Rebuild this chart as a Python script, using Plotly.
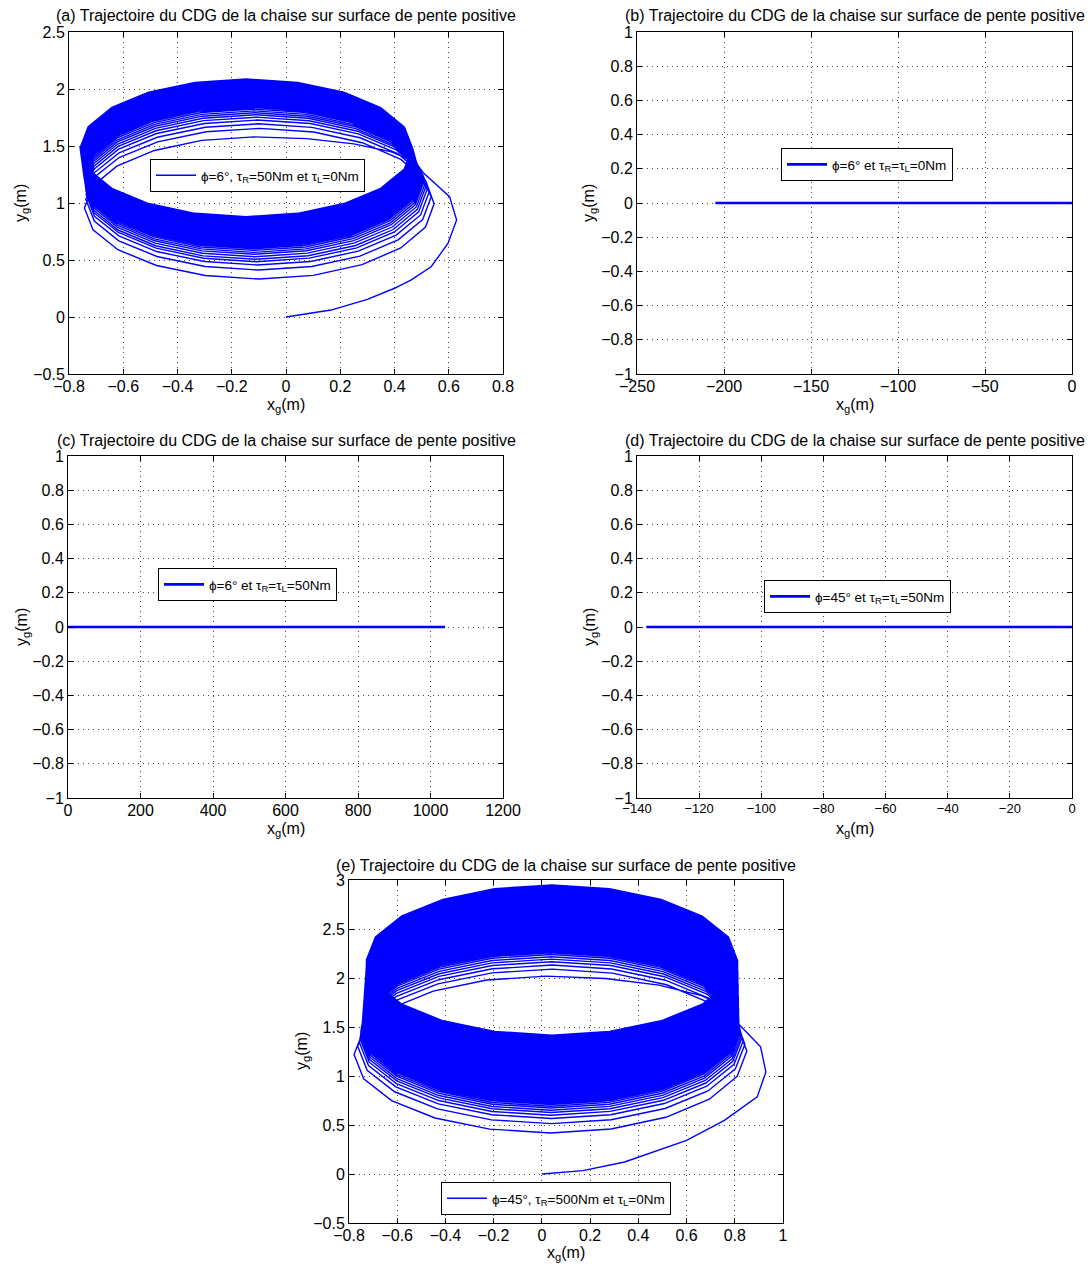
import numpy as np
import plotly.graph_objects as go

FONT = "Liberation Sans, Arial, Helvetica, sans-serif"
BLUE = "#0000ff"
W, H = 1089, 1264
TITLE = "Trajectoire du CDG de la chaise sur surface de pente positive"

# ---------------- (a) phi = 6 deg, tau_R = 50 Nm, tau_L = 0 Nm ----------------
# run-up from the origin to the first turn
a_start_x = [0.0, 0.166, 0.300, 0.400, 0.462, 0.535, 0.597, 0.629, 0.603, 0.508]
a_start_y = [0.0, 0.061, 0.155, 0.252, 0.325, 0.441, 0.645, 0.850, 1.056, 1.260]
# per-turn peak of the upper arc
a_top = [1.580, 1.655, 1.695, 1.728, 1.753, 1.774, 1.792, 1.808, 1.824, 1.838,
         1.848, 1.856, 1.865, 1.873, 1.881, 1.889, 1.898, 1.906, 1.914, 1.923,
         1.931, 1.939, 1.947, 1.956, 1.964, 1.972, 1.981, 1.989, 1.997, 2.005,
         2.014, 2.022, 2.030, 2.039, 2.047, 2.055, 2.063, 2.072, 2.080, 2.088]
# per-turn trough of the lower arc
a_bottom = [0.333, 0.412, 0.456, 0.485, 0.506, 0.529, 0.550, 0.567, 0.584, 0.598,
            0.610, 0.619, 0.629, 0.638, 0.647, 0.657, 0.666, 0.675, 0.684, 0.694,
            0.703, 0.712, 0.722, 0.731, 0.740, 0.750, 0.759, 0.768, 0.778, 0.787,
            0.796, 0.806, 0.815, 0.824, 0.833, 0.843, 0.852, 0.861, 0.871, 0.880]
# per-turn leftmost x
a_left = [-0.743, -0.738, -0.737, -0.738, -0.739, -0.740, -0.741, -0.742, -0.743, -0.744,
          -0.745, -0.745, -0.746, -0.746, -0.747, -0.747, -0.748, -0.748, -0.749, -0.749,
          -0.750, -0.750, -0.751, -0.751, -0.752, -0.752, -0.753, -0.753, -0.754, -0.754,
          -0.755, -0.755, -0.756, -0.756, -0.757, -0.757, -0.758, -0.758, -0.759, -0.759]
# per-turn rightmost x (start of each turn)
a_right = [0.508, 0.546, 0.535, 0.527, 0.520, 0.515, 0.511, 0.507, 0.504, 0.501,
           0.498, 0.497, 0.496, 0.495, 0.494, 0.493, 0.491, 0.490, 0.489, 0.488,
           0.487, 0.486, 0.485, 0.484, 0.483, 0.481, 0.480, 0.479, 0.478, 0.477,
           0.476, 0.475, 0.474, 0.473, 0.472, 0.471, 0.470, 0.469, 0.468, 0.466]

# ---------------- (b), (c), (d) straight runs along y = 0 ----------------
b_x = [-205.0, 0.0]
b_y = [0.0, 0.0]
c_x = [0.0, 1040.0]
c_y = [0.0, 0.0]
d_x = [-137.0, 0.0]
d_y = [0.0, 0.0]

# ---------------- (e) phi = 45 deg, tau_R = 500 Nm, tau_L = 0 Nm ----------------
e_start_x = [0.0, 0.170, 0.343, 0.600, 0.757, 0.893, 0.929, 0.907, 0.814]
e_start_y = [0.0, 0.034, 0.123, 0.344, 0.548, 0.787, 1.042, 1.298, 1.536]
e_top = [2.019, 2.091, 2.132, 2.166, 2.193, 2.217, 2.240, 2.258, 2.273, 2.285, 2.295, 2.304,
         2.314, 2.325, 2.336, 2.347, 2.359, 2.370, 2.381, 2.392, 2.403, 2.414,
         2.425, 2.437, 2.448, 2.459, 2.470, 2.481, 2.492, 2.503, 2.515, 2.526,
         2.537, 2.548, 2.559, 2.570, 2.581, 2.592, 2.604, 2.615, 2.626, 2.637,
         2.648, 2.659, 2.670, 2.682, 2.693, 2.704, 2.715, 2.726, 2.737, 2.748,
         2.760, 2.771, 2.782, 2.793, 2.804, 2.815, 2.826, 2.838, 2.849, 2.860,
         2.871, 2.882, 2.893, 2.904, 2.916, 2.927, 2.938, 2.949]
e_bottom = [0.419, 0.514, 0.566, 0.600, 0.627, 0.651, 0.673, 0.692, 0.708, 0.721, 0.732, 0.742,
            0.752, 0.764, 0.775, 0.787, 0.799, 0.810, 0.822, 0.834, 0.845, 0.857,
            0.869, 0.880, 0.892, 0.904, 0.915, 0.927, 0.939, 0.950, 0.962, 0.974,
            0.985, 0.997, 1.009, 1.020, 1.032, 1.044, 1.055, 1.067, 1.079, 1.090,
            1.102, 1.114, 1.125, 1.137, 1.149, 1.160, 1.172, 1.184, 1.195, 1.207,
            1.219, 1.230, 1.242, 1.254, 1.265, 1.277, 1.289, 1.300, 1.312, 1.324,
            1.335, 1.347, 1.359, 1.370, 1.382, 1.394, 1.405, 1.417]
e_left = [-0.779, -0.764, -0.758, -0.755, -0.753, -0.752, -0.751, -0.750, -0.749, -0.748, -0.747, -0.746,
          -0.745, -0.745, -0.744, -0.744, -0.744, -0.743, -0.743, -0.743, -0.742, -0.742,
          -0.742, -0.741, -0.741, -0.741, -0.740, -0.740, -0.740, -0.739, -0.739, -0.739,
          -0.738, -0.738, -0.738, -0.737, -0.737, -0.737, -0.736, -0.736, -0.736, -0.735,
          -0.735, -0.735, -0.734, -0.734, -0.734, -0.733, -0.733, -0.733, -0.732, -0.732,
          -0.732, -0.731, -0.731, -0.731, -0.730, -0.730, -0.730, -0.729, -0.729, -0.729,
          -0.729, -0.728, -0.728, -0.728, -0.728, -0.728, -0.728, -0.728]
e_right = [0.814, 0.850, 0.842, 0.836, 0.831, 0.828, 0.825, 0.823, 0.821, 0.820, 0.819, 0.818,
           0.817, 0.817, 0.817, 0.817, 0.817, 0.817, 0.816, 0.816, 0.816, 0.816,
           0.816, 0.816, 0.816, 0.816, 0.816, 0.815, 0.815, 0.815, 0.815, 0.815,
           0.815, 0.815, 0.815, 0.815, 0.815, 0.815, 0.814, 0.814, 0.814, 0.814,
           0.814, 0.814, 0.814, 0.814, 0.814, 0.814, 0.814, 0.813, 0.813, 0.813,
           0.813, 0.813, 0.813, 0.813, 0.813, 0.813, 0.813, 0.813, 0.812, 0.812,
           0.812, 0.812, 0.812, 0.812, 0.812, 0.812, 0.812, 0.812]

# legend labels
a_name = "ϕ=6°, τ<sub>R</sub>=50Nm et τ<sub>L</sub>=0Nm"
b_name = "ϕ=6° et τ<sub>R</sub>=τ<sub>L</sub>=0Nm"
c_name = "ϕ=6° et τ<sub>R</sub>=τ<sub>L</sub>=50Nm"
d_name = "ϕ=45° et τ<sub>R</sub>=τ<sub>L</sub>=50Nm"
e_name = "ϕ=45°, τ<sub>R</sub>=500Nm et τ<sub>L</sub>=0Nm"

TWO_PI = 2 * np.pi


def spiral_path(start_x, start_y, top, bottom, left, right, per_turn):
    """Chain the run-up and the successive turns (right -> top -> left -> bottom),
    sampled with a fixed angular step of 2*pi/per_turn (solver time step)."""
    xs, ys = list(start_x), list(start_y)
    n = len(top)
    total = n * TWO_PI
    step = TWO_PI / per_turn
    phis = list(np.arange(step, total - 1e-9, step)) + [total]
    for phi in phis:
        k = min(int(phi // TWO_PI), n - 1)
        th = phi - k * TWO_PI
        r0 = right[k]
        r1 = right[k + 1] if k + 1 < n else right[k]
        lx = left[k]
        y_r0 = start_y[-1] if k == 0 else 0.5 * (bottom[k - 1] + top[k])
        y_l = 0.5 * (top[k] + bottom[k])
        y_r1 = 0.5 * (bottom[k] + top[k + 1]) if k + 1 < n else y_l
        s = np.sin(th)
        if th <= np.pi:
            cx, ax = 0.5 * (r0 + lx), 0.5 * (r0 - lx)
        else:
            cx, ax = 0.5 * (r1 + lx), 0.5 * (r1 - lx)
        if th <= 0.5 * np.pi:
            y = y_r0 + (top[k] - y_r0) * s
        elif th <= np.pi:
            y = y_l + (top[k] - y_l) * s
        elif th <= 1.5 * np.pi:
            y = y_l + (y_l - bottom[k]) * s
        else:
            y = y_r1 + (y_r1 - bottom[k]) * s
        xs.append(cx + ax * np.cos(th))
        ys.append(y)
    return xs, ys


def px(x):
    return x / W


def py(y):
    return 1 - y / H


# plot-area boxes in pixels: (left, right, top, bottom)
boxes = {
    "a": (69, 503, 32, 374),
    "b": (637, 1072, 32, 374),
    "c": (68, 503, 456, 798),
    "d": (637, 1072, 456, 798),
    "e": (349, 783, 880, 1223),
}

fig = go.Figure()

ax_x, ax_y = spiral_path(a_start_x, a_start_y, a_top, a_bottom, a_left, a_right, 20.0)
ex_x, ex_y = spiral_path(e_start_x, e_start_y, e_top, e_bottom, e_left, e_right, 20.0)

fig.add_trace(go.Scatter(x=ax_x, y=ax_y, mode="lines", name=a_name, showlegend=True,
                         line=dict(color=BLUE, width=1.4), xaxis="x", yaxis="y",
                         legend="legend"))
fig.add_trace(go.Scatter(x=b_x, y=b_y, mode="lines", name=b_name, showlegend=True,
                         line=dict(color=BLUE, width=2.7), xaxis="x2", yaxis="y2",
                         legend="legend2"))
fig.add_trace(go.Scatter(x=c_x, y=c_y, mode="lines", name=c_name, showlegend=True,
                         line=dict(color=BLUE, width=2.7), xaxis="x3", yaxis="y3",
                         legend="legend3"))
fig.add_trace(go.Scatter(x=d_x, y=d_y, mode="lines", name=d_name, showlegend=True,
                         line=dict(color=BLUE, width=2.7), xaxis="x4", yaxis="y4",
                         legend="legend4"))
fig.add_trace(go.Scatter(x=ex_x, y=ex_y, mode="lines", name=e_name, showlegend=True,
                         line=dict(color=BLUE, width=1.4), xaxis="x5", yaxis="y5",
                         legend="legend5"))

axis_common = dict(
    showline=True, linecolor="black", linewidth=1, mirror="allticks",
    ticks="inside", ticklen=5, tickcolor="black", tickwidth=1,
    showgrid=True, gridcolor="#444444", gridwidth=1, griddash="1px,4px",
    zeroline=False, fixedrange=True, automargin=False,
    tickfont=dict(family=FONT, size=16, color="black"),
)

ranges = {
    "a": ([-0.8, 0.8], 0.2, [-0.5, 2.5], 0.5),
    "b": ([-250, 0], 50, [-1, 1], 0.2),
    "c": ([0, 1200], 200, [-1, 1], 0.2),
    "d": ([-140, 0], 20, [-1, 1], 0.2),
    "e": ([-0.8, 1.0], 0.2, [-0.5, 3.0], 0.5),
}

layout = dict(template="none", width=W, height=H,
              margin=dict(l=0, r=0, t=0, b=0, pad=0), autosize=False,
              paper_bgcolor="white", plot_bgcolor="white", showlegend=True,
              font=dict(family=FONT, color="black"))

for i, key in enumerate("abcde"):
    L, R, T, B = boxes[key]
    xr, xd, yr, yd = ranges[key]
    sfx = "" if i == 0 else str(i + 1)
    xa = dict(axis_common, domain=[px(L), px(R)], range=xr, dtick=xd, tick0=xr[0],
              anchor="y" + sfx, ticklabelstandoff=-2)
    if key == "d":
        xa["tickfont"] = dict(family=FONT, size=13, color="black")
    ya = dict(axis_common, domain=[py(B), py(T)], range=yr, dtick=yd, tick0=yr[0],
              anchor="x" + sfx)
    layout["xaxis" + sfx] = xa
    layout["yaxis" + sfx] = ya

legend_pos = {
    "legend": (150, 159),
    "legend2": (781, 148),
    "legend3": (158, 568),
    "legend4": (764, 580),
    "legend5": (441, 1182),
}
for name, (lx, ly) in legend_pos.items():
    layout[name] = dict(x=px(lx), y=py(ly), xanchor="left", yanchor="top",
                        bgcolor="white", bordercolor="black", borderwidth=1,
                        font=dict(family=FONT, size=13.5, color="black"),
                        itemwidth=40, visible=True)

annotations = []
title_pos = {"a": (286, 16), "b": (855, 16), "c": (286, 440), "d": (855, 440), "e": (566, 865)}
for key, (tx, ty) in title_pos.items():
    annotations.append(dict(text="(%s) %s" % (key, TITLE), x=px(tx), y=py(ty),
                            xref="paper", yref="paper", showarrow=False,
                            xanchor="center", yanchor="middle",
                            font=dict(family=FONT, size=16, color="black")))
xlab_pos = {"a": (286, 405), "b": (855, 405), "c": (286, 829), "d": (855, 829), "e": (566, 1253)}
for key, (tx, ty) in xlab_pos.items():
    annotations.append(dict(text="x<sub>g</sub>(m)", x=px(tx), y=py(ty),
                            xref="paper", yref="paper", showarrow=False,
                            xanchor="center", yanchor="middle",
                            font=dict(family=FONT, size=16, color="black")))
ylab_pos = {"a": (22, 203), "b": (590, 203), "c": (22, 627), "d": (590, 627), "e": (302, 1051)}
for key, (tx, ty) in ylab_pos.items():
    annotations.append(dict(text="y<sub>g</sub>(m)", x=px(tx), y=py(ty),
                            xref="paper", yref="paper", showarrow=False, textangle=-90,
                            xanchor="center", yanchor="middle",
                            font=dict(family=FONT, size=16, color="black")))
layout["annotations"] = annotations

fig.update_layout(**layout)
fig.write_html("out.html", config={"displayModeBar": False})
